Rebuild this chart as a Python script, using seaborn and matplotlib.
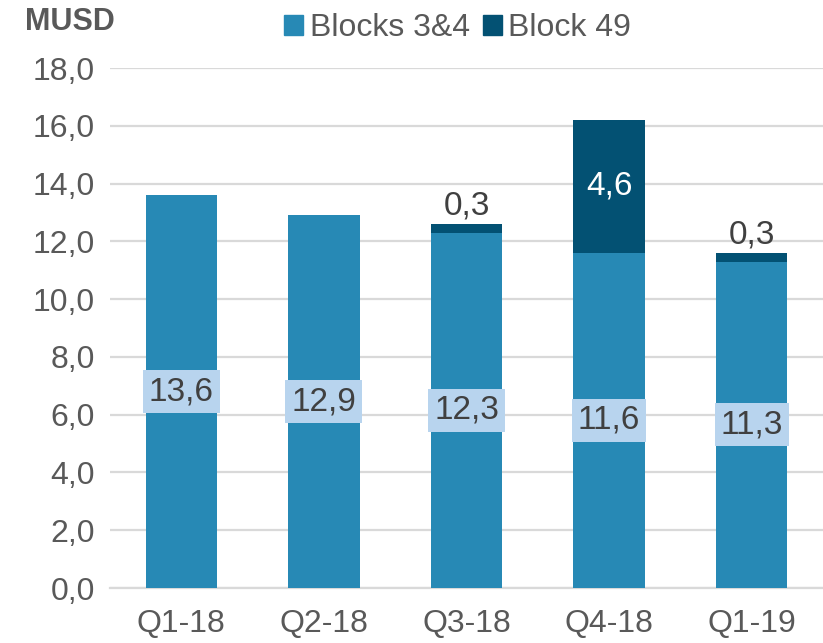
# MUSD per quarter, stacked by block
import matplotlib.pyplot as plt
import matplotlib.ticker as mticker
from matplotlib.patches import Patch
import pandas as pd
import seaborn as sns

quarters = ['Q1-18', 'Q2-18', 'Q3-18', 'Q4-18', 'Q1-19']
blocks_34 = [13.6, 12.9, 12.3, 11.6, 11.3]
block_49 = [0.0, 0.0, 0.3, 4.6, 0.3]

light = '#2789B5'
dark = '#035173'
box = '#B8D4EE'
txt = '#404040'

def comma(v):
    return f'{v:.1f}'.replace('.', ',')

df = pd.DataFrame({'quarter': quarters, 'b34': blocks_34, 'b49': block_49})
df['total'] = df['b34'] + df['b49']

sns.set_style('white')
plt.rcParams['font.family'] = ['Liberation Sans', 'DejaVu Sans']

fig = plt.figure(figsize=(8.23, 6.43), dpi=100)
ax = fig.add_axes([0.1337, 0.0855, 0.8663, 0.8087])

# total bar in dark, blocks 3&4 drawn over it in light
sns.barplot(data=df, x='quarter', y='total', color=dark, width=0.5, saturation=1, linewidth=0, ax=ax, zorder=2)
sns.barplot(data=df, x='quarter', y='b34', color=light, width=0.5, saturation=1, linewidth=0, ax=ax, zorder=3)

ax.set_xlim(-0.5, 4.5)
ax.set_ylim(0, 18)
ax.yaxis.set_major_locator(mticker.MultipleLocator(2))
ax.yaxis.set_major_formatter(mticker.FuncFormatter(lambda v, p: comma(v)))
ax.grid(axis='y', color='#D9D9D9', linewidth=1.6, zorder=0)
ax.set_axisbelow(True)
for s in ['top', 'right', 'left']:
    ax.spines[s].set_visible(False)
ax.spines['bottom'].set_color('#D9D9D9')
ax.spines['bottom'].set_linewidth(1.6)
ax.tick_params(axis='both', length=0, labelsize=23, labelcolor='#595959')
ax.tick_params(axis='y', pad=11)
ax.tick_params(axis='x', pad=15)
ax.set_xlabel('')
ax.set_ylabel('')

# labels
for i, row in df.iterrows():
    ax.text(i, row['b34'] / 2, comma(row['b34']), ha='center', va='center', fontsize=24, color=txt, zorder=5,
            bbox=dict(boxstyle='square,pad=0.18', facecolor=box, edgecolor='none'))
    if row['b49'] > 1:
        ax.text(i, row['b34'] + row['b49'] / 2, comma(row['b49']), ha='center', va='center',
                fontsize=24, color='white', zorder=5)
    elif row['b49'] > 0:
        ax.text(i, row['total'] + 0.1, comma(row['b49']), ha='center', va='bottom',
                fontsize=24, color=txt, zorder=5)

fig.text(0.03, 0.966, 'MUSD', fontsize=22, fontweight='bold', color='#595959', va='center')

handles = [Patch(color=light, label='Blocks 3&4'), Patch(color=dark, label='Block 49')]
fig.legend(handles=handles, loc='center', bbox_to_anchor=(0.556, 0.956), ncol=2, frameon=False,
           fontsize=23, handlelength=0.6, handleheight=0.6, handletextpad=0.2, columnspacing=0.4,
           labelcolor='#595959', borderaxespad=0)

plt.savefig('out.png', dpi=100)
